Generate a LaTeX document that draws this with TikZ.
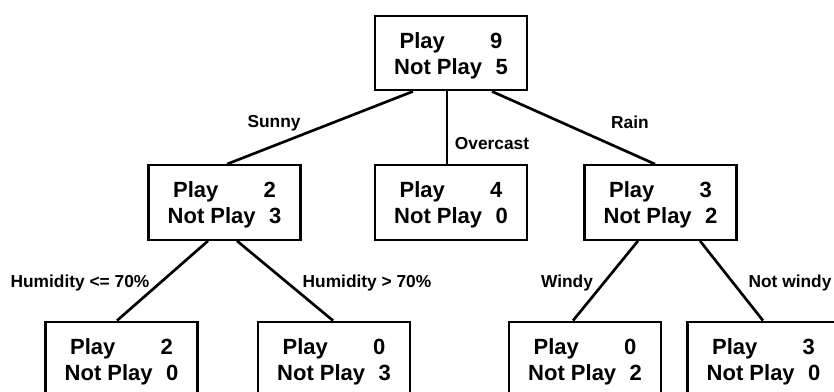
\documentclass[tikz,border=0pt]{standalone}
\usepackage{fontspec}
\setmainfont{Liberation Sans}
\usetikzlibrary{calc}

\tikzset{
  count/.style={draw, line width=1.6pt, minimum width=114pt, minimum height=56pt,
    inner sep=0pt, font=\fontsize{16.5}{19.5}\selectfont\bfseries, align=center},
  branch/.style={font=\fontsize{13}{15}\selectfont\bfseries, inner sep=0pt},
  link/.style={line width=2pt}
}

% two centred lines: play count over not-play count
\newcommand{\counts}[2]{\rule{0pt}{16pt}Play\hspace*{34pt}#1\\Not Play\hspace*{10pt}#2}

\begin{document}
\begin{tikzpicture}[x=0.75pt, y=-0.75pt]
  \useasboundingbox (0,0) rectangle (834,392);
  \clip (0,0) rectangle (834,392);

  % nodes
  \node[count] (root) at (451,53)    {\counts{9}{5}};
  \node[count] (sun)  at (224.5,202.5) {\counts{2}{3}};
  \node[count] (over) at (451,202.5) {\counts{4}{0}};
  \node[count] (rain) at (660.5,202.5) {\counts{3}{2}};
  \node[count] (hlo)  at (121.5,359) {\counts{2}{0}};
  \node[count] (hhi)  at (334,359)   {\counts{0}{3}};
  \node[count] (wind) at (585,359)   {\counts{0}{2}};
  \node[count] (calm) at (763.5,359) {\counts{3}{0}};

  % connectors
  \draw[link] ($(root.south)+(-38,0)$) -- ($(sun.north)+(2.5,0)$);
  \draw[link] ($(root.south)+(-4,0)$)  -- ($(over.north)+(-4,0)$);
  \draw[link] ($(root.south)+(41,0)$)  -- ($(rain.north)+(-5.5,0)$);
  \draw[link] ($(sun.south)+(-16.5,0)$) -- ($(hlo.north)+(-4.5,0)$);
  \draw[link] ($(sun.south)+(12.5,0)$)  -- ($(hhi.north)+(-1,0)$);
  \draw[link] ($(rain.south)+(-22.5,0)$) -- ($(wind.north)+(-12,0)$);
  \draw[link] ($(rain.south)+(39.5,0)$)  -- ($(calm.north)+(-0.5,0)$);

  % branch labels
  \node[branch] (lsun)  at (274,123) {Sunny};
  \node[branch] (lover) at (492,144) {Overcast};
  \node[branch] (lrain) at (630,122) {Rain};
  \node[branch] (lhlo)  at (80,283)  {Humidity <= 70\%};
  \node[branch] (lhhi)  at (367,283) {Humidity > 70\%};
  \node[branch] (lwind) at (567,283) {Windy};
  \node[branch] (lcalm) at (790,283) {Not windy};
\end{tikzpicture}
\end{document}
